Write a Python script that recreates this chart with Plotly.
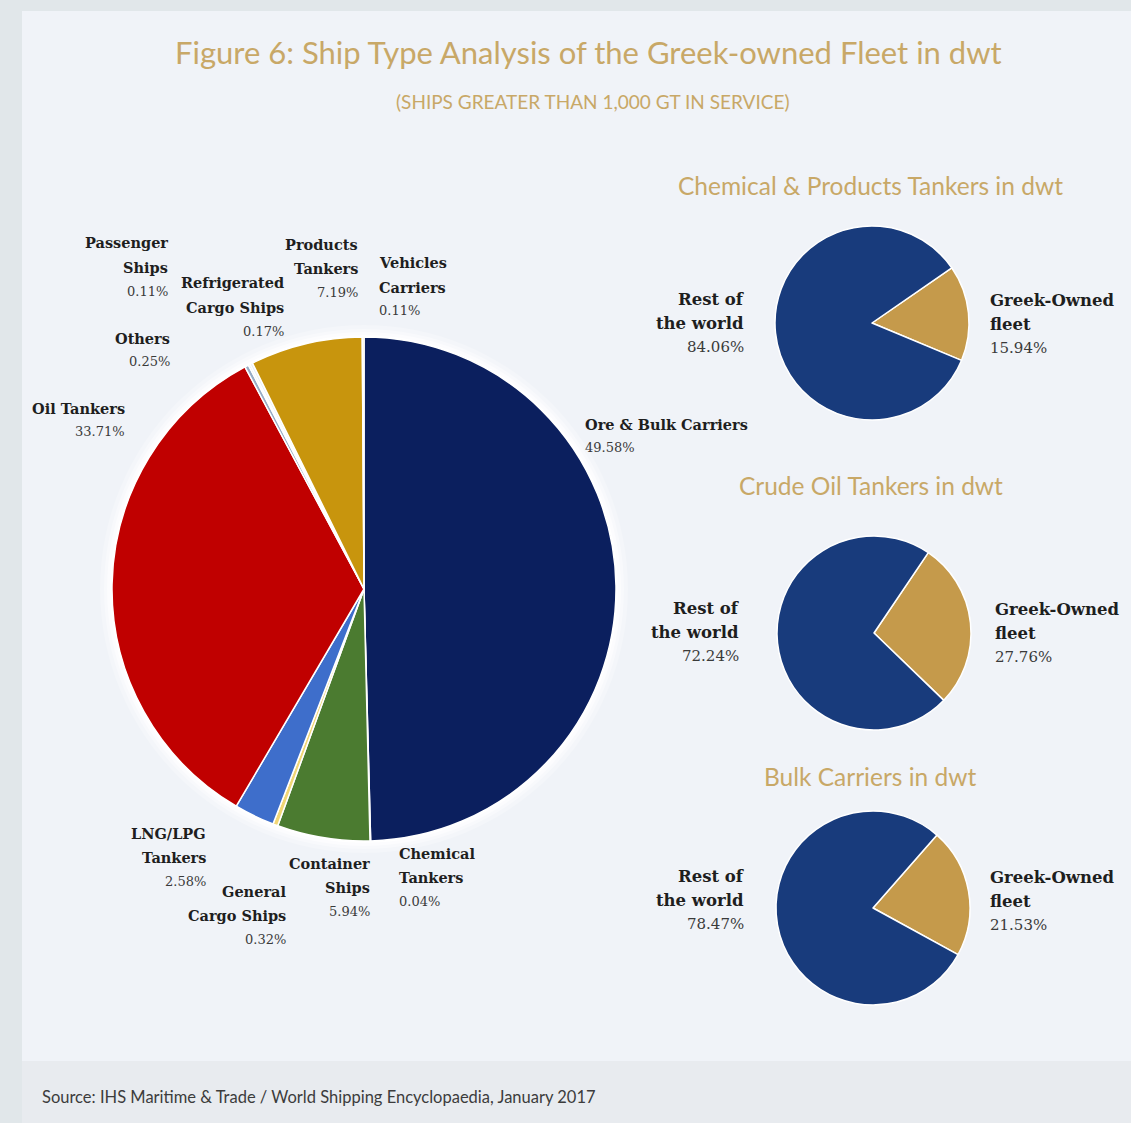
import plotly.graph_objects as go

W, H = 1131, 1123

# ---- data -------------------------------------------------------------
ship_types = [
    "Ore & Bulk Carriers", "Chemical Tankers", "Container Ships",
    "General Cargo Ships", "LNG/LPG Tankers", "Oil Tankers", "Others",
    "Passenger Ships", "Refrigerated Cargo Ships", "Products Tankers",
    "Vehicles Carriers",
]
ship_share = [49.58, 0.04, 5.94, 0.32, 2.58, 33.71, 0.25, 0.11, 0.17, 7.19, 0.11]
ship_colors = [
    "#0b1f5e", "#9bb7d6", "#4b7b30", "#f1d675", "#3e6ecb", "#c00000",
    "#97acc6", "#c7d3e2", "#e6eef6", "#c8950d", "#f4e2a8",
]

segment_titles = [
    "Chemical & Products Tankers in dwt",
    "Crude Oil Tankers in dwt",
    "Bulk Carriers in dwt",
]
greek_share = [15.94, 27.76, 21.53]
rest_share = [84.06, 72.24, 78.47]
segment_names = ["Greek-Owned fleet", "Rest of the world"]
segment_colors = ["#c59a4b", "#183b7c"]

GOLD = "#c8a867"
SERIF = "DejaVu Serif"
SANS = "Lato"


def px(x):
    return x / W


def py(y):
    return 1 - y / H


fig = go.Figure()

# main pie (centre 364,589 ; radius 252)
cx, cy, r = 364, 589, 252
fig.add_trace(go.Pie(
    labels=ship_types, values=ship_share, sort=False, direction="clockwise",
    rotation=0, textinfo="none", hoverinfo="label+percent",
    marker=dict(colors=ship_colors, line=dict(color="white", width=1.5)),
    domain=dict(x=[px(cx - r), px(cx + r)], y=[py(cy + r), py(cy - r)]),
    showlegend=False,
))

# three small pies, Greek share first, centred slightly above 3 o'clock
small_centres = [(872, 323), (874, 633), (873, 908)]
tilt = [6, 6, 10]
sr = 97
for (scx, scy), g, rest, t in zip(small_centres, greek_share, rest_share, tilt):
    rot = 90 - t - g / 100 * 360 / 2
    fig.add_trace(go.Pie(
        labels=segment_names, values=[g, rest], sort=False,
        direction="clockwise", rotation=rot, textinfo="none",
        hoverinfo="label+percent",
        marker=dict(colors=segment_colors, line=dict(color="white", width=1.5)),
        domain=dict(x=[px(scx - sr), px(scx + sr)], y=[py(scy + sr), py(scy - sr)]),
        showlegend=False,
    ))

# ---- background panels -----------------------------------------------
shapes = [
    dict(type="rect", xref="paper", yref="paper", x0=px(22), x1=1,
         y0=py(1061), y1=py(11), fillcolor="#f0f3f8", line_width=0, layer="below"),
    dict(type="rect", xref="paper", yref="paper", x0=px(22), x1=1,
         y0=0, y1=py(1061), fillcolor="#e8ebef", line_width=0, layer="below"),
]
# soft white halo around the main pie
for extra, op in [(12, 0.25), (8, 0.35), (5, 0.5), (2, 0.8)]:
    shapes.append(dict(
        type="circle", xref="paper", yref="paper",
        x0=px(cx - r - extra), x1=px(cx + r + extra),
        y0=py(cy + r + extra), y1=py(cy - r - extra),
        fillcolor="white", opacity=op, line_width=0, layer="below"))

annotations = []


def text(x, y, s, size, color, family, xanchor="center", bold=False):
    if bold:
        s = "<b>" + s + "</b>"
    annotations.append(dict(
        x=px(x), y=py(y), xref="paper", yref="paper", text=s,
        showarrow=False, xanchor=xanchor, yanchor="middle",
        font=dict(size=size, color=color, family=family)))


def label(lines, value, x, y0, anchor, name_size=14.5, pct_size=13, step=24.5):
    y = y0
    for ln in lines:
        text(x, y, ln, name_size, "#1e1e1e", SERIF, anchor, bold=True)
        y += step
    text(x, y - 1, f"{value:.2f}%", pct_size, "#3a3a3a", SERIF, anchor)


# titles
text(588, 52, "Figure 6: Ship Type Analysis of the Greek-owned Fleet in dwt",
     31, GOLD, SANS)
text(592, 102, "(SHIPS GREATER THAN 1,000 GT IN SERVICE)", 19, GOLD, SANS)
text(870, 186, segment_titles[0], 24.5, GOLD, SANS)
text(871, 485, segment_titles[1], 24.5, GOLD, SANS)
text(870, 776, segment_titles[2], 24.5, GOLD, SANS)

# main pie labels
s = dict(zip(ship_types, ship_share))
label(["Passenger", "Ships"], s["Passenger Ships"], 170, 243, "right")
label(["Others"], s["Others"], 172, 338, "right")
label(["Oil Tankers"], s["Oil Tankers"], 127, 408, "right")
label(["Refrigerated", "Cargo Ships"], s["Refrigerated Cargo Ships"], 286, 283, "right")
label(["Products", "Tankers"], s["Products Tankers"], 360, 244, "right")
label(["Vehicles", "Carriers"], s["Vehicles Carriers"], 377, 263, "left")
label(["Ore & Bulk Carriers"], s["Ore & Bulk Carriers"], 583, 424, "left")
label(["LNG/LPG", "Tankers"], s["LNG/LPG Tankers"], 208, 833, "right")
label(["General", "Cargo Ships"], s["General Cargo Ships"], 288, 891, "right")
label(["Container", "Ships"], s["Container Ships"], 372, 863, "right")
label(["Chemical", "Tankers"], s["Chemical Tankers"], 397, 853, "left")

# small pie labels
rest_pos = [(746, 299), (741, 608), (746, 876)]
greek_pos = [(988, 300), (993, 609), (988, 877)]
for i in range(3):
    label(["Rest of", "the world"], rest_share[i], rest_pos[i][0], rest_pos[i][1],
          "right", 16.5, 15)
    label(["Greek-Owned", "fleet"], greek_share[i], greek_pos[i][0], greek_pos[i][1],
          "left", 16.5, 15)

# source line
text(40, 1097, "Source: IHS Maritime & Trade / World Shipping Encyclopaedia, January 2017",
     16.5, "#3c3c3c", SANS, "left")

fig.update_layout(
    width=W, height=H, margin=dict(l=0, r=0, t=0, b=0),
    paper_bgcolor="#e1e7ea", plot_bgcolor="#e1e7ea",
    shapes=shapes, annotations=annotations,
)

fig.write_html("out.html")
